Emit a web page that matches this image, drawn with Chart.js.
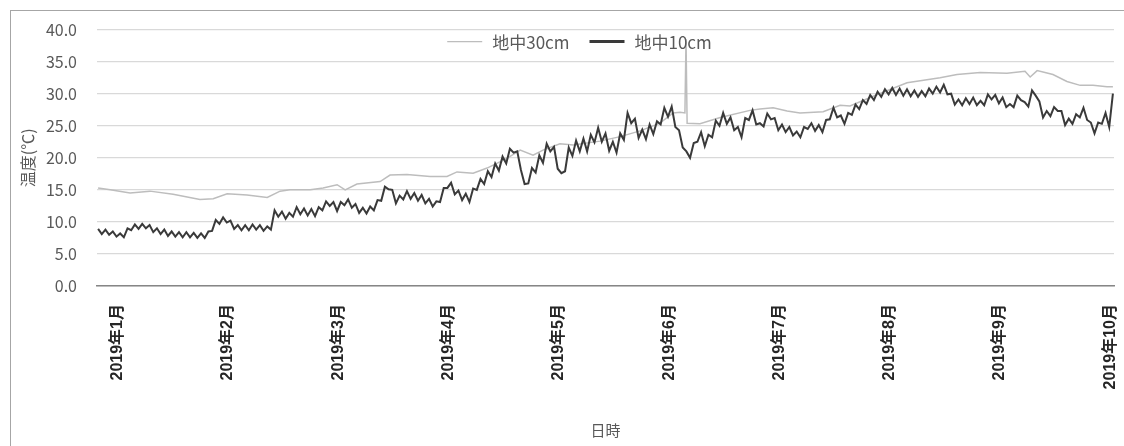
<!DOCTYPE html>
<html><head><meta charset="utf-8">
<script src="https://cdn.jsdelivr.net/npm/chart.js@4.4.1/dist/chart.umd.min.js"></script>
<style>
html,body{margin:0;padding:0;background:#fff;}
#wrap{position:relative;width:1124px;height:446px;overflow:hidden;}
#frame{position:absolute;left:10px;top:10px;width:1120px;height:440px;border-left:1px solid #a6a6a6;border-top:1px solid #a6a6a6;pointer-events:none;}
canvas{display:block;}
</style></head><body>
<div id="wrap"><canvas id="c" width="1124" height="446" style="width:1124px;height:446px"></canvas><div id="frame"></div></div>
<script>
const seriesNames = ['地中30cm', '地中10cm'];
const monthLabels = ['2019年1月','2019年2月','2019年3月','2019年4月','2019年5月','2019年6月','2019年7月','2019年8月','2019年9月','2019年10月'];
const monthTickDays = [5.3, 35.3, 65.3, 95.3, 125.3, 155.3, 185.3, 215.3, 245.3, 275.3];
const yTicks = [0, 5, 10, 15, 20, 25, 30, 35, 40];

// 地中30cm (day index, °C)
const days30 = [0, 3.3, 8.7, 14.1, 20.4, 27.7, 31.3, 35.1, 40.5, 46, 49.5, 52.2, 57.7, 61.2, 65, 67.2, 70.4, 76.7, 79.4, 84, 90.3, 94.9, 97.6, 102, 105.8, 111.2, 114.8, 118.3, 121, 125.6, 129.2, 136.5, 142, 147.4, 152.8, 156.4, 158.3, 159.6, 159.9, 160.2, 163.7, 169.2, 177.3, 180, 183.6, 187.4, 190.9, 197.2, 201.8, 204.5, 210.8, 220, 229, 233.6, 239.9, 247.2, 252.1, 253.5, 255.4, 259.7, 263.5, 267.1, 270.6, 274.4, 276];
const temps30 = [15.3, 15.0, 14.5, 14.8, 14.3, 13.5, 13.6, 14.4, 14.2, 13.8, 14.8, 15.0, 15.0, 15.3, 15.8, 15.0, 15.9, 16.3, 17.3, 17.4, 17.1, 17.1, 17.8, 17.6, 18.4, 19.9, 21.2, 20.4, 21.2, 22.2, 22.0, 22.6, 23.3, 24.2, 25.4, 27.0, 27.1, 27.0, 38.5, 25.4, 25.3, 26.3, 27.4, 27.6, 27.8, 27.3, 27.0, 27.2, 28.2, 28.1, 29.6, 31.7, 32.5, 33.0, 33.3, 33.2, 33.5, 32.6, 33.6, 33.0, 31.9, 31.3, 31.3, 31.1, 31.1];

// 地中10cm (one reading per day, day 0..276)
const temps10 = [
 8.9, 8.1, 8.8, 8.0, 8.5, 7.7, 8.2, 7.6, 9.0, 8.7,
 9.6, 8.9, 9.7, 9.0, 9.5, 8.4, 9.0, 8.1, 8.8, 7.8,
 8.5, 7.7, 8.4, 7.6, 8.4, 7.6, 8.3, 7.5, 8.2, 7.5,
 8.5, 8.6, 10.3, 9.7, 10.7, 9.9, 10.2, 8.9, 9.5, 8.7,
 9.5, 8.7, 9.6, 8.8, 9.5, 8.6, 9.3, 8.8, 11.8, 10.8,
 11.6, 10.5, 11.4, 10.8, 12.3, 11.2, 12.1, 11.0, 12.0, 10.9,
 12.3, 11.8, 13.2, 12.5, 13.1, 11.7, 13.1, 12.6, 13.5, 12.2,
 12.8, 11.4, 12.2, 11.3, 12.4, 11.8, 13.4, 13.3, 15.5, 15.1,
 15.0, 12.9, 14.1, 13.5, 14.8, 13.6, 14.5, 13.3, 14.2, 12.9,
 13.6, 12.4, 13.2, 13.1, 15.3, 15.3, 16.1, 14.3, 14.9, 13.4,
 14.4, 13.1, 15.2, 15.0, 16.7, 15.9, 17.9, 17.0, 19.1, 18.0,
 20.2, 19.1, 21.4, 20.8, 21.0, 18.1, 15.9, 16.0, 18.4, 17.7,
 20.4, 19.2, 22.2, 21.0, 21.7, 18.3, 17.6, 17.9, 21.6, 20.3,
 22.7, 21.0, 23.0, 21.0, 23.6, 22.4, 24.7, 22.5, 23.8, 21.1,
 22.5, 20.8, 23.8, 22.8, 27.0, 25.4, 26.1, 23.1, 24.4, 22.9,
 25.2, 23.7, 25.7, 25.2, 27.8, 26.4, 28.0, 24.8, 24.3, 21.6,
 21.0, 20.0, 22.3, 22.5, 24.0, 21.8, 23.6, 23.2, 25.8, 25.0,
 27.0, 25.3, 26.3, 24.3, 24.8, 23.2, 26.2, 25.9, 27.4, 25.2,
 25.4, 24.9, 26.9, 26.0, 26.2, 24.3, 25.2, 24.0, 24.8, 23.5,
 24.1, 23.2, 24.8, 24.5, 25.4, 24.2, 25.1, 24.0, 25.9, 26.0,
 27.8, 26.3, 26.6, 25.3, 27.0, 26.7, 28.3, 27.6, 29.0, 28.4,
 29.8, 29.0, 30.3, 29.5, 30.7, 29.9, 30.9, 29.8, 30.8, 29.7,
 30.7, 29.6, 30.5, 29.5, 30.4, 29.6, 30.8, 30.0, 31.1, 30.2,
 31.4, 29.9, 30.0, 28.3, 29.1, 28.2, 29.3, 28.4, 29.4, 28.2,
 28.9, 28.2, 29.9, 29.1, 29.8, 28.5, 29.4, 27.9, 28.4, 27.9,
 29.7, 29.0, 28.7, 28.0, 30.5, 29.7, 28.8, 26.3, 27.3, 26.5,
 27.9, 27.3, 27.3, 25.1, 26.1, 25.3, 26.8, 26.3, 27.8, 25.9,
 25.5, 23.8, 25.5, 25.3, 27.0, 24.8, 30.0
];

const FONT = "'Noto Sans CJK JP', 'Noto Sans', sans-serif";

// legend drawn inside the plot area, near its top
const inlineLegend = {
  id: 'inlineLegend',
  afterDatasetsDraw(chart, args, opts) {
    const { ctx, chartArea } = chart;
    ctx.save();
    ctx.font = `${opts.fontSize}px ${FONT}`;
    const items = chart.data.datasets.map((ds, i) => ({
      text: ds.label, color: ds.borderColor, lw: opts.sampleWidths[i]
    }));
    let total = 0;
    items.forEach((it, i) => {
      it.w = opts.sampleLen + opts.textGap + ctx.measureText(it.text).width;
      total += it.w + (i ? opts.itemGap : 0);
    });
    let x = (chartArea.left + chartArea.right) / 2 - total / 2 + opts.shift;
    const y = chartArea.top + opts.offsetY;
    items.forEach(it => {
      ctx.beginPath();
      ctx.strokeStyle = it.color;
      ctx.lineWidth = it.lw;
      ctx.moveTo(x, y);
      ctx.lineTo(x + opts.sampleLen, y);
      ctx.stroke();
      ctx.fillStyle = opts.color;
      ctx.textBaseline = 'middle';
      ctx.textAlign = 'left';
      ctx.fillText(it.text, x + opts.sampleLen + opts.textGap, y + 1);
      x += it.w + opts.itemGap;
    });
    ctx.restore();
  }
};

new Chart(document.getElementById('c'), {
  type: 'line',
  data: {
    datasets: [
      {
        label: seriesNames[0],
        data: days30.map((d, i) => ({ x: d, y: temps30[i] })),
        borderColor: '#bdbdbd',
        backgroundColor: '#bdbdbd',
        borderWidth: 1.5,
        pointRadius: 0,
        tension: 0,
        order: 1
      },
      {
        label: seriesNames[1],
        data: temps10.map((v, i) => ({ x: i, y: v })),
        borderColor: '#3a3a3a',
        backgroundColor: '#3a3a3a',
        borderWidth: 2,
        pointRadius: 0,
        tension: 0,
        order: 0
      }
    ]
  },
  plugins: [inlineLegend],
  options: {
    responsive: false,
    animation: false,
    events: [],
    layout: { padding: { left: 18, right: 10, top: 26, bottom: 3 } },
    plugins: {
      tooltip: { enabled: false },
      legend: { display: false },
      inlineLegend: {
        fontSize: 17, color: '#595959', sampleLen: 35, textGap: 10, itemGap: 20,
        sampleWidths: [1.3, 3], offsetY: 12, shift: -26
      }
    },
    scales: {
      x: {
        type: 'linear',
        min: -0.3,
        max: 276.3,
        afterBuildTicks: (s) => { s.ticks = monthTickDays.map(v => ({ value: v })); },
        afterFit: (s) => { s.height = 157; s.paddingLeft = 0; s.paddingRight = 0; },
        ticks: {
          autoSkip: false,
          minRotation: 90,
          maxRotation: 90,
          padding: 10,
          color: '#262626',
          font: { family: "'Liberation Sans', 'Noto Sans CJK JP', sans-serif", size: 16, weight: 'bold' },
          callback: (v, i) => monthLabels[i]
        },
        grid: { display: false },
        border: { display: true, color: '#868686', width: 1.5 },
        title: { display: true, text: '日時', color: '#595959', font: { family: FONT, size: 15 }, padding: { top: 4, bottom: 4 } }
      },
      y: {
        min: 0,
        max: 40,
        afterBuildTicks: (s) => { s.ticks = yTicks.map(v => ({ value: v })); },
        afterFit: (s) => { s.width = 79; },
        ticks: {
          padding: 20,
          color: '#595959',
          font: { family: FONT, size: 16 },
          callback: (v) => Number(v).toFixed(1)
        },
        grid: { color: '#d9d9d9', lineWidth: 1.3, drawTicks: false },
        border: { display: false },
        title: { display: true, text: '温度(℃)', color: '#595959', font: { family: FONT, size: 16 }, padding: { top: 0, bottom: 0 } }
      }
    }
  }
});
</script>
</body></html>
